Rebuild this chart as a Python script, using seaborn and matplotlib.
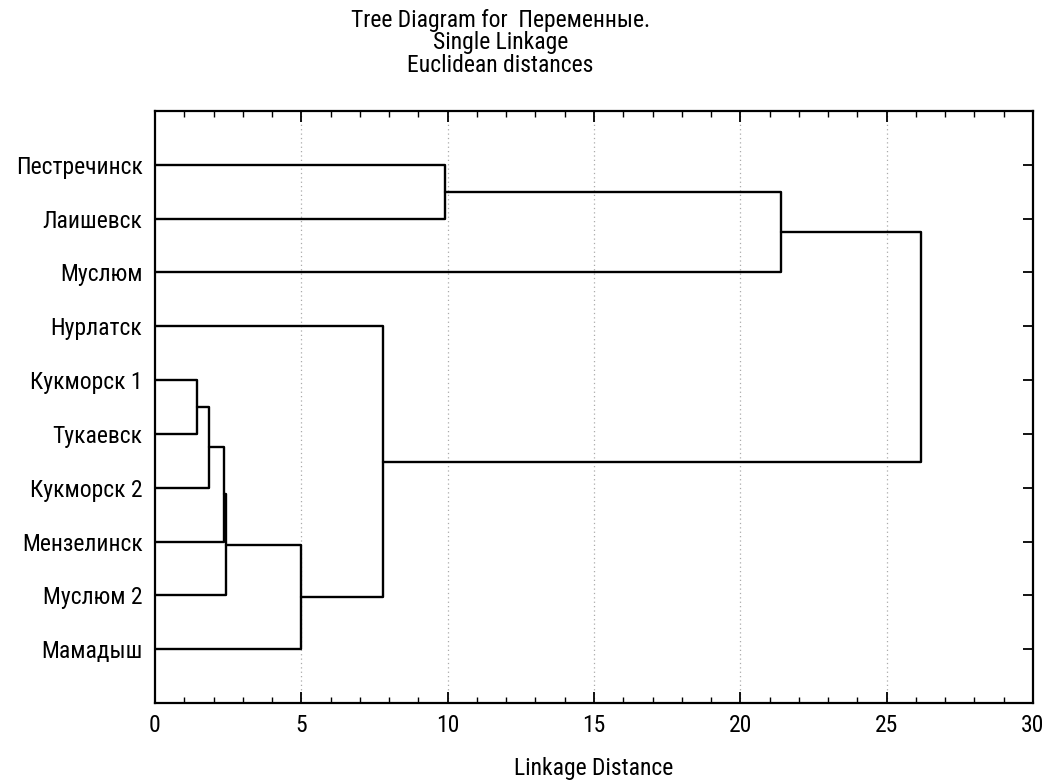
import numpy as np
import pandas as pd
import matplotlib
matplotlib.use("Agg")
import matplotlib.pyplot as plt
from matplotlib.ticker import MultipleLocator
import seaborn as sns

labels = ["Пестречинск", "Лаишевск", "Муслюм", "Нурлатск", "Кукморск 1",
          "Тукаевск", "Кукморск 2", "Мензелинск", "Муслюм 2", "Мамадыш"]
# merges: (node a, node b, linkage distance); new node ids start at len(labels)
merge_a = [0, 10, 4, 12, 13, 14, 15, 3, 11]
merge_b = [1, 2, 5, 6, 7, 8, 9, 16, 17]
merge_h = [9.9, 21.4, 1.45, 1.83, 2.36, 2.44, 4.98, 7.79, 26.16]
xticks = [0, 5, 10, 15, 20, 25, 30]

sns.set_style("white")
plt.rcParams["font.family"] = ["Roboto Condensed", "Liberation Sans", "DejaVu Sans"]
plt.rcParams["text.color"] = "black"
plt.rcParams["xtick.color"] = "black"
plt.rcParams["ytick.color"] = "black"
plt.rcParams["axes.labelcolor"] = "black"

# compute node positions
n = len(labels)
pos = {i: float(i + 1) for i in range(n)}
hgt = {i: 0.0 for i in range(n)}
rows = []
for k, (a, b, h) in enumerate(zip(merge_a, merge_b, merge_h)):
    node = n + k
    xs = [hgt[a], h, h, hgt[b]]
    ys = [pos[a], pos[a], pos[b], pos[b]]
    for j, (x, y) in enumerate(zip(xs, ys)):
        rows.append({"seg": k, "order": j, "x": x, "y": y})
    pos[node] = (pos[a] + pos[b]) / 2
    hgt[node] = h
df = pd.DataFrame(rows)

fig = plt.figure(figsize=(10.54, 7.8), dpi=100)
ax = fig.add_axes([155/1054, 1 - 703/780, (1033-155)/1054, (703-111)/780])

for xv in [5, 10, 15, 20, 25]:
    ax.axvline(xv, color="#aaaaaa", lw=0.9, ls=(0, (1, 2.5)), zorder=0)

sns.lineplot(data=df, x="x", y="y", units="seg", estimator=None, sort=False,
             color="black", lw=1.7, ax=ax, legend=False)

fs = 17
ax.set_xlim(0, 30)
ax.set_ylim(n + 1, 0)
ax.set_xticks(xticks)
ax.set_xticklabels([str(t) for t in xticks], fontsize=fs)
ax.xaxis.set_minor_locator(MultipleLocator(1))
ax.set_yticks(range(1, n + 1))
ax.set_yticklabels(labels, fontsize=fs)
ax.tick_params(axis="x", which="major", direction="in", length=8, width=1.3,
               top=True, bottom=True, pad=8)
ax.tick_params(axis="x", which="minor", direction="in", length=4, width=1.0,
               top=True, bottom=True)
ax.tick_params(axis="y", which="major", direction="in", length=7, width=1.3,
               left=False, right=True, pad=9)
for s in ax.spines.values():
    s.set_color("black")
    s.set_linewidth(1.6)
ax.set_xlabel("Linkage Distance", fontsize=fs, labelpad=14)
ax.set_ylabel("")

fig.text(0.475, 1 - 20/780, "Tree Diagram for  Переменные.", ha="center", va="center", fontsize=fs)
fig.text(0.475, 1 - 43/780, "Single Linkage", ha="center", va="center", fontsize=fs)
fig.text(0.475, 1 - 66/780, "Euclidean distances", ha="center", va="center", fontsize=fs)

fig.savefig("out.png", dpi=100)
